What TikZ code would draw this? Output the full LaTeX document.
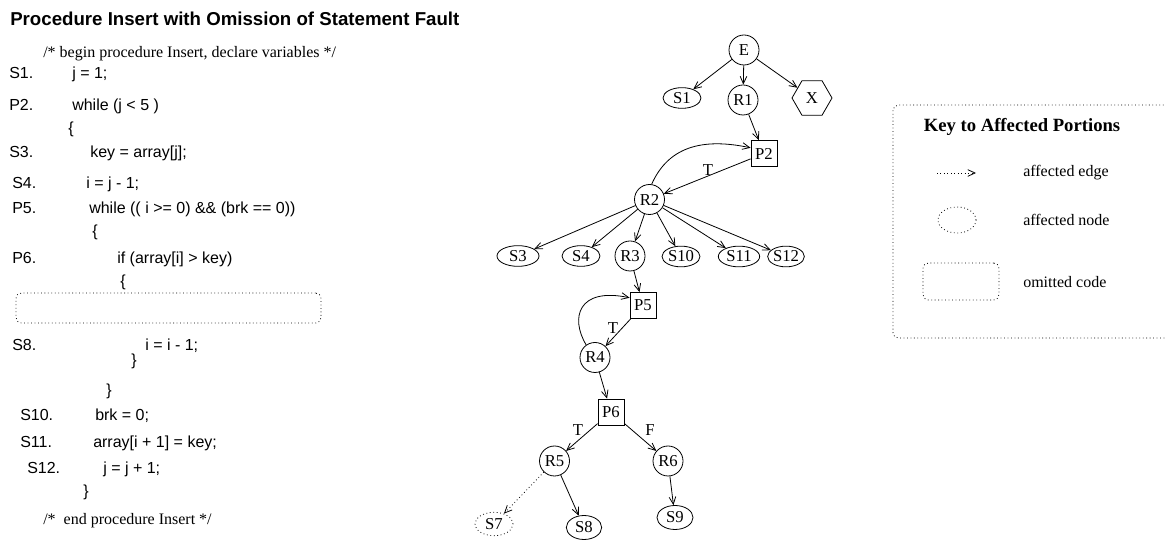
\documentclass[tikz,border=0pt]{standalone}
\usepackage{fontspec}
\setmainfont{Liberation Serif}
\newfontfamily\codefont{Liberation Sans}
\usetikzlibrary{shapes.geometric,arrows.meta}

\begin{document}
\begin{tikzpicture}[x=0.75pt,y=-0.75pt,
  every node/.style={inner sep=0pt},
  nodefont/.style={font=\fontsize{12.5}{13}\selectfont},
  edge/.style={draw, line width=0.6pt, -{Straight Barb[length=5.5pt,width=5pt]}},
  affected/.style={edge, dotted},
  circ/.style={draw, line width=0.6pt, circle, minimum size=22.5pt, nodefont},
  oval/.style={draw, line width=0.6pt, ellipse, minimum width=28.5pt, minimum height=15.5pt, nodefont},
  pred/.style={draw, line width=0.6pt, rectangle, minimum size=19.5pt, nodefont},
  exitnode/.style={draw, line width=0.6pt, regular polygon, regular polygon sides=6, minimum size=30pt, nodefont},
  lbl/.style={nodefont},
  code/.style={anchor=base west, font=\codefont\fontsize{12}{14}\selectfont},
  comment/.style={anchor=base west, font=\fontsize{12}{14}\selectfont},
  keytext/.style={anchor=west, font=\fontsize{12}{14}\selectfont},
  omitbox/.style={draw, dotted, line width=0.6pt, rounded corners=4pt},
]
\clip (0,0) rectangle (1165,548);

% ---------- source listing ----------
\node[anchor=base west, font=\codefont\bfseries\fontsize{14}{16}\selectfont] (title) at (10,26)
  {Procedure Insert with Omission of Statement Fault};
\node[comment] (cbegin) at (43,58) {/* begin procedure Insert, declare variables */};
\node[code] (l1) at (9,79) {S1.};   \node[code] (c1) at (72,79) {j = 1;};
\node[code] (l2) at (9,111) {P2.};  \node[code] (c2) at (72,111) {while (j < 5 )};
\node[code] (b1) at (68,134) {\{};
\node[code] (l3) at (9,158) {S3.};  \node[code] (c3) at (90,158) {key = array[j];};
\node[code] (l4) at (12,189) {S4.}; \node[code] (c4) at (86,189) {i = j - 1;};
\node[code] (l5) at (12,214) {P5.}; \node[code] (c5) at (89,214) {while (( i >= 0) \&\& (brk == 0))};
\node[code] (b2) at (92,237) {\{};
\node[code] (l6) at (12,264) {P6.}; \node[code] (c6) at (117,264) {if (array[i] > key)};
\node[code] (b3) at (120,287) {\{};
\node[omitbox, minimum width=228.75pt, minimum height=22.5pt] (omit) at (168.5,308) {};
\node[code] (l8) at (12,351) {S8.}; \node[code] (c8) at (145,351) {i = i - 1;};
\node[code] (e3) at (131,366) {\}};
\node[code] (e2) at (106,396) {\}};
\node[code] (l10) at (20,421) {S10.}; \node[code] (c10) at (95,421) {brk = 0;};
\node[code] (l11) at (20,448) {S11.}; \node[code] (c11) at (93,448) {array[i + 1] = key;};
\node[code] (l12) at (27,474) {S12.}; \node[code] (c12) at (103,474) {j = j + 1;};
\node[code] (e1) at (83,497) {\}};
\node[comment] (cend) at (43,525) {/*\ \ end procedure Insert */};

% ---------- dependence graph ----------
\node[circ] (E) at (744,50) {E};
\node[oval] (S1) at (682,98) {S1};
\node[circ] (R1) at (743,100) {R1};
\node[exitnode] (X) at (812,98) {X};
\node[pred] (P2) at (764,153.5) {P2};
\node[circ] (R2) at (649.5,199.5) {R2};
\node[oval, minimum width=31.5pt] (S3) at (518,256) {S3};
\node[oval] (S4) at (581,256) {S4};
\node[circ] (R3) at (630,256) {R3};
\node[oval] (S10) at (681,256.5) {S10};
\node[oval, minimum width=31pt] (S11) at (739,256.5) {S11};
\node[oval, minimum width=27.5pt] (S12) at (786,256.5) {S12};
\node[pred] (P5) at (643,305.5) {P5};
\node[circ] (R4) at (595,357.5) {R4};
\node[pred] (P6) at (611,412) {P6};
\node[circ] (R5) at (554.5,461) {R5};
\node[circ] (R6) at (668,461) {R6};
\node[oval, dotted, minimum height=17.5pt] (S7) at (494,524) {S7};
\node[oval, minimum width=26.5pt, minimum height=18pt] (S8) at (584,527.5) {S8};
\node[oval, minimum width=27pt, minimum height=18pt] (S9) at (675,517.5) {S9};

\path[edge] (E) -- (S1);
\path[edge] (E) -- (R1);
\path[edge] (E) -- (X);
\path[edge] (R1) -- (P2);
\path[edge] (P2) -- (R2);
\path[edge] (R2.82) .. controls (666,152) and (695,136) .. (P2.157);
\path[edge] (R2) -- (S3);
\path[edge] (R2) -- (S4);
\path[edge] (R2) -- (R3);
\path[edge] (R2) -- (S10);
\path[edge] (R2) -- (S11);
\path[edge] (R2) -- (S12);
\path[edge] (R3) -- (P5);
\path[edge] (P5) -- (R4);
\path[edge] (R4.125) .. controls (570,318) and (578,287) .. (P5.150);
\path[edge] (R4) -- (P6);
\path[edge] (P6) -- (R5);
\path[edge] (P6) -- (R6);
\path[affected] (R5) -- (S7);
\path[edge] (R5) -- (S8);
\path[edge] (R6) -- (S9);

\node[lbl] (tP2) at (708,170) {T};
\node[lbl] (tP5) at (613,328) {T};
\node[lbl] (tP6) at (578,430) {T};
\node[lbl] (fP6) at (650,430) {F};

% ---------- key ----------
\draw[dotted, line width=0.6pt, rounded corners=4pt] (893,105) rectangle (1190,338);
\node[font=\bfseries\fontsize{14}{16}\selectfont] (keytitle) at (1022,127) {Key to Affected Portions};
\coordinate (ka) at (937,173);
\coordinate (kb) at (976,173);
\path[affected] (ka) -- (kb);
\node[keytext] (kedge) at (1023,173) {affected edge};
\node[draw, dotted, line width=0.6pt, ellipse, minimum width=28.5pt, minimum height=19.5pt] (knode) at (957,220) {};
\node[keytext] (knodet) at (1023,220) {affected node};
\node[omitbox, minimum width=57pt, minimum height=27.75pt] (kcode) at (961,281.5) {};
\node[keytext] (kcodet) at (1023,282) {omitted code};
\end{tikzpicture}
\end{document}
